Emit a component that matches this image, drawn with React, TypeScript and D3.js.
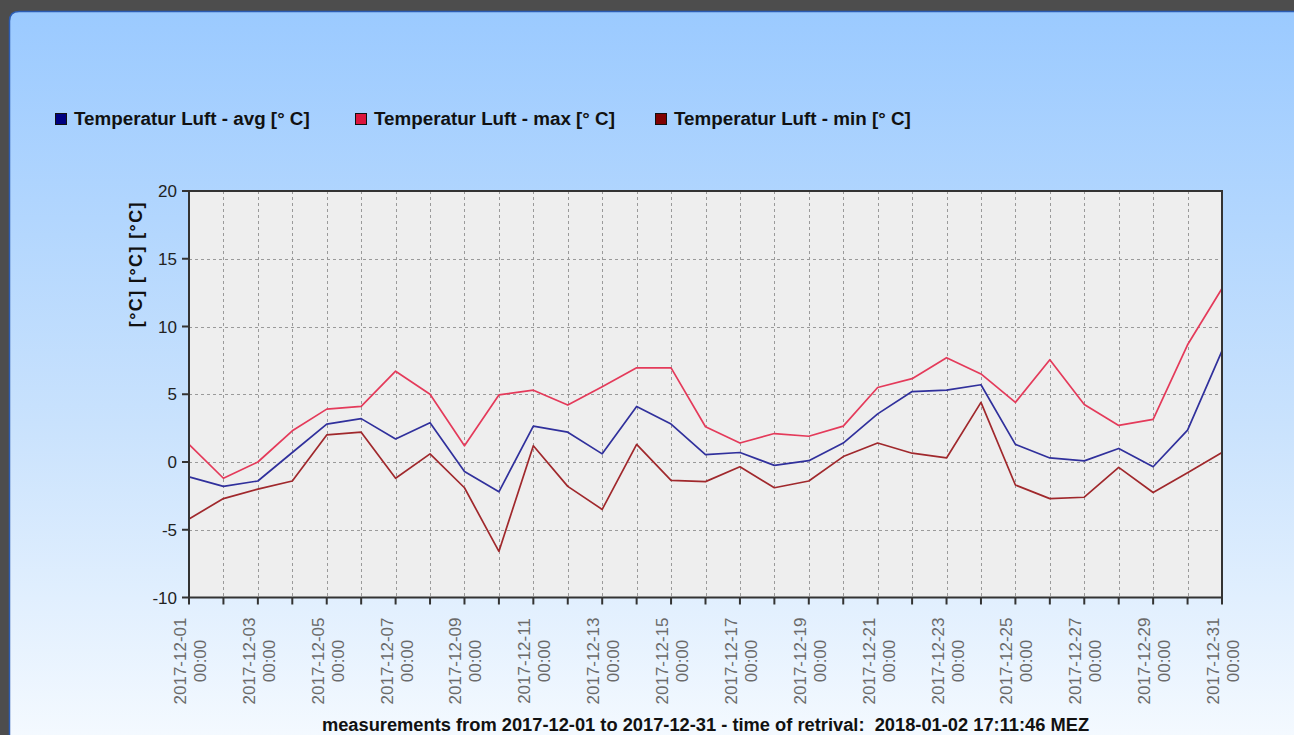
import React, { useRef, useEffect } from "react";
import * as d3 from "d3";

// daily values, December 2017
const days = [
  "2017-12-01", "2017-12-02", "2017-12-03", "2017-12-04", "2017-12-05", "2017-12-06",
  "2017-12-07", "2017-12-08", "2017-12-09", "2017-12-10", "2017-12-11", "2017-12-12",
  "2017-12-13", "2017-12-14", "2017-12-15", "2017-12-16", "2017-12-17", "2017-12-18",
  "2017-12-19", "2017-12-20", "2017-12-21", "2017-12-22", "2017-12-23", "2017-12-24",
  "2017-12-25", "2017-12-26", "2017-12-27", "2017-12-28", "2017-12-29", "2017-12-30",
  "2017-12-31",
];
const avgTemp = [
  -1.1, -1.8, -1.4, 0.7, 2.8, 3.2, 1.7, 2.9, -0.7, -2.2, 2.65, 2.2, 0.6, 4.1, 2.8, 0.55,
  0.7, -0.25, 0.1, 1.4, 3.55, 5.2, 5.3, 5.7, 1.3, 0.3, 0.08, 1.0, -0.35, 2.35, 8.2,
];
const maxTemp = [
  1.3, -1.2, 0.0, 2.3, 3.9, 4.1, 6.7, 5.0, 1.2, 4.95, 5.3, 4.2, 5.55, 6.95, 6.95, 2.6,
  1.4, 2.1, 1.9, 2.65, 5.5, 6.15, 7.7, 6.5, 4.4, 7.55, 4.25, 2.7, 3.15, 8.65, 12.8,
];
const minTemp = [
  -4.2, -2.7, -2.0, -1.4, 2.0, 2.2, -1.2, 0.6, -1.9, -6.6, 1.2, -1.8, -3.5, 1.3, -1.35, -1.45,
  -0.35, -1.9, -1.4, 0.4, 1.4, 0.65, 0.3, 4.4, -1.7, -2.7, -2.6, -0.4, -2.25, -0.8, 0.7,
];
const yTicks = [-10, -5, 0, 5, 10, 15, 20];
const seriesNames = [
  "Temperatur Luft - avg [° C]",
  "Temperatur Luft - max [° C]",
  "Temperatur Luft - min [° C]",
];
const yLabel = "[°C] [°C] [°C]";
const footer =
  "measurements from 2017-12-01 to 2017-12-31 - time of retrival:  2018-01-02 17:11:46 MEZ";

export default function App() {
  const svgRef = useRef<SVGSVGElement>(null);

  useEffect(() => {
    d3.select(svgRef.current).selectAll("*").remove();
    const width = 1294;
    const height = 735;
    const font = "'Liberation Sans', Arial, sans-serif";
    const svg = d3.select(svgRef.current)
      .attr("width", width)
      .attr("height", height)
      .style("position", "absolute")
      .style("left", 0)
      .style("top", 0)
      .style("font-family", font);

    // page + panel
    svg.append("rect").attr("width", width).attr("height", height).attr("fill", "#4d4d4d");
    const defs = svg.append("defs");
    const grad = defs.append("linearGradient")
      .attr("id", "panelGrad").attr("x1", 0).attr("y1", 0).attr("x2", 0).attr("y2", 1);
    grad.append("stop").attr("offset", "0%").attr("stop-color", "#9bcaff");
    grad.append("stop").attr("offset", "55%").attr("stop-color", "#c9e2fd");
    grad.append("stop").attr("offset", "100%").attr("stop-color", "#f7fbff");
    svg.append("path")
      .attr("d", "M9.5,760 L9.5,21 Q9.5,11.5 19,11.5 L1300,11.5 L1300,760 Z")
      .attr("fill", "url(#panelGrad)")
      .attr("stroke", "#2c5cb3")
      .attr("stroke-width", 1.5);

    // scales
    const left = 189, right = 1222, top = 191, bottom = 597.5;
    const parse = d3.utcParse("%Y-%m-%d");
    const dates = days.map(d => parse(d) as Date);
    const xScale = d3.scaleUtc()
      .domain([dates[0], dates[dates.length - 1]])
      .range([left, right]);
    const yScale = d3.scaleLinear().domain([-10, 20]).range([bottom, top]);

    // plot background
    svg.append("rect")
      .attr("x", left).attr("y", top)
      .attr("width", right - left).attr("height", bottom - top)
      .attr("fill", "#eeeeee");

    // grid
    const grid = svg.append("g")
      .attr("stroke", "#9a9a9a")
      .attr("stroke-width", 1)
      .attr("stroke-dasharray", "3,3");
    grid.selectAll(".vgrid")
      .data(dates.slice(1, -1))
      .join("line")
      .attr("x1", d => Math.round(xScale(d)) + 0.5)
      .attr("x2", d => Math.round(xScale(d)) + 0.5)
      .attr("y1", top)
      .attr("y2", bottom);
    grid.selectAll(".hgrid")
      .data(yTicks.slice(1, -1))
      .join("line")
      .attr("x1", left)
      .attr("x2", right)
      .attr("y1", d => Math.round(yScale(d)) + 0.5)
      .attr("y2", d => Math.round(yScale(d)) + 0.5);

    // lines
    const line = d3.line<number>()
      .x((v, i) => xScale(dates[i]))
      .y(v => yScale(v));
    const series = [
      { values: maxTemp, color: "#e43a5a" },
      { values: minTemp, color: "#a0282c" },
      { values: avgTemp, color: "#30309c" },
    ];
    series.forEach(s => {
      svg.append("path")
        .datum(s.values)
        .attr("d", line)
        .attr("fill", "none")
        .attr("stroke", s.color)
        .attr("stroke-width", 1.7)
        .attr("stroke-linejoin", "round");
    });

    // frame
    svg.append("rect")
      .attr("x", left).attr("y", top)
      .attr("width", right - left).attr("height", bottom - top)
      .attr("fill", "none")
      .attr("stroke", "#333333")
      .attr("stroke-width", 2);

    // y axis
    const yAxis = svg.append("g");
    yAxis.selectAll("line")
      .data(yTicks)
      .join("line")
      .attr("x1", left - 7).attr("x2", left)
      .attr("y1", d => yScale(d)).attr("y2", d => yScale(d))
      .attr("stroke", "#333333").attr("stroke-width", 2);
    yAxis.selectAll("text")
      .data(yTicks)
      .join("text")
      .attr("x", left - 12)
      .attr("y", d => yScale(d))
      .attr("dy", "0.36em")
      .attr("text-anchor", "end")
      .attr("font-size", 17)
      .attr("fill", "#222222")
      .text(d => d);

    svg.append("text")
      .attr("transform", `translate(142, 201) rotate(-90)`)
      .attr("text-anchor", "end")
      .attr("font-size", 18)
      .attr("font-weight", "bold")
      .attr("letter-spacing", 1.4)
      .attr("fill", "#111111")
      .text(yLabel);

    // x axis
    const xAxis = svg.append("g");
    xAxis.selectAll("line")
      .data(dates)
      .join("line")
      .attr("x1", d => xScale(d)).attr("x2", d => xScale(d))
      .attr("y1", bottom).attr("y2", bottom + 7)
      .attr("stroke", "#333333").attr("stroke-width", 2);
    const labelled = dates.filter((d, i) => i % 2 === 0);
    const lbl = xAxis.selectAll("g.lbl")
      .data(labelled)
      .join("g")
      .attr("class", "lbl")
      .attr("transform", d => `translate(${xScale(d)}, 661) rotate(-90)`)
      .attr("font-size", 17)
      .attr("fill", "#6a6a6a")
      .attr("text-anchor", "middle");
    lbl.append("text").attr("x", 0).attr("y", -3).text(d => d3.utcFormat("%Y-%m-%d")(d));
    lbl.append("text").attr("x", 0).attr("y", 17).text(d => d3.utcFormat("%H:%M")(d));

    // legend
    const legend = svg.append("g");
    const legendColors = ["#000080", "#dc143c", "#800000"];
    seriesNames.forEach((name, i) => {
      const lx = 55 + i * 300;
      legend.append("rect")
        .attr("x", lx + 0.5).attr("y", 113.5)
        .attr("width", 11).attr("height", 11)
        .attr("fill", legendColors[i])
        .attr("stroke", "#111111").attr("stroke-width", 1);
      legend.append("text")
        .attr("x", lx + 19).attr("y", 125)
        .attr("font-size", 18.8)
        .attr("font-weight", "bold")
        .attr("fill", "#111111")
        .text(name);
    });

    // footer
    svg.append("text")
      .attr("x", (left + right) / 2)
      .attr("y", 731)
      .attr("text-anchor", "middle")
      .attr("font-size", 18.3)
      .attr("font-weight", "bold")
      .attr("fill", "#111111")
      .style("white-space", "pre")
      .text(footer);
  }, []);

  return (
    <div>
      <svg ref={svgRef}></svg>
    </div>
  );
}
